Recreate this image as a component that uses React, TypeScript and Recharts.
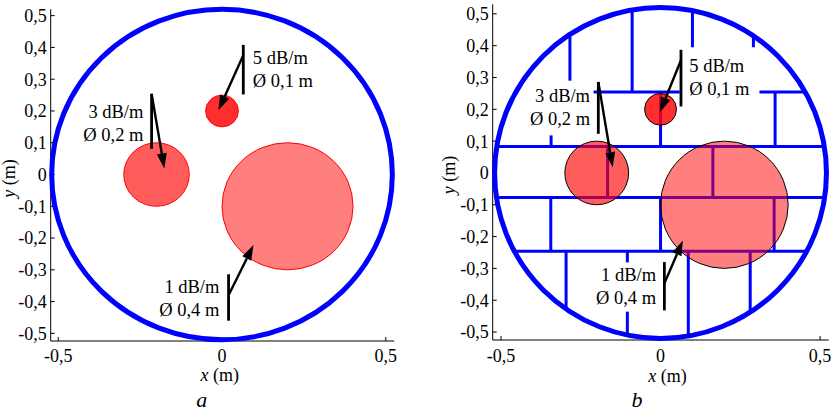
import React from "react";
import { Scatter, ScatterChart, XAxis, YAxis } from "recharts";

const xTicks = [-0.5, 0, 0.5];
const yTicks = [-0.5, -0.4, -0.3, -0.2, -0.1, 0, 0.1, 0.2, 0.3, 0.4, 0.5];

// outer wall of the room (m)
const rimRadius = 0.52;

// obstacles: centre, diameter (m), attenuation (dB/m)
const obstacleX = [0, -0.2, 0.2];
const obstacleY = [0.2, 0, -0.1];
const obstacleDiameter = [0.1, 0.2, 0.4];
const obstacleLoss = [5, 3, 1];

// inner walls (panel b): horizontal ones run rim to rim
const hWallY = [0.254, 0.083, -0.077, -0.246];
// vertical ones: [x, y from, y to], null = runs on to the rim
const vWalls: [number, number, number | null][] = [
  [-0.284, 0.254, null],
  [-0.089, 0.254, null],
  [0.1, 0.254, null],
  [0.291, 0.254, null],
  [-0.343, 0.083, 0.254],
  [0, 0.083, 0.254],
  [0.359, 0.083, 0.254],
  [-0.166, -0.077, 0.083],
  [0.164, -0.077, 0.083],
  [-0.344, -0.246, -0.077],
  [0, -0.246, -0.077],
  [0.356, -0.246, -0.077],
  [-0.296, -0.246, null],
  [-0.104, -0.246, null],
  [0.087, -0.246, null],
  [0.281, -0.246, null],
];

const BLUE = "#0000ff";
const SERIF = "'Liberation Serif', 'Times New Roman', serif";
const lossAlpha: Record<number, number> = { 5: 0.82, 3: 0.64, 1: 0.5 };

type Callout = {
  bar: [number, number, number]; // x, y bottom, y top
  tail: [number, number];
  head: [number, number];
  text: [number, number];
  side: "start" | "end";
  box?: [number, number, number, number]; // x1, x2, y1, y2
};

// callout placement, same order as the obstacles
const calloutsA: Callout[] = [
  { bar: [0.065, 0.252, 0.408], tail: [0.065, 0.375], head: [-0.011, 0.202], text: [0.094, 0.368], side: "start" },
  { bar: [-0.215, 0.081, 0.254], tail: [-0.215, 0.254], head: [-0.176, 0.019], text: [-0.24, 0.197], side: "end" },
  { bar: [0.02, -0.46, -0.314], tail: [0.02, -0.38], head: [0.096, -0.222], text: [-0.008, -0.353], side: "end" },
];
const calloutsB: Callout[] = [
  { bar: [0.064, 0.209, 0.387], tail: [0.064, 0.354], head: [-0.002, 0.191], text: [0.09, 0.338], side: "start", box: [0.06, 0.31, 0.228, 0.395] },
  { bar: [-0.195, 0.123, 0.286], tail: [-0.195, 0.286], head: [-0.15, 0.018], text: [-0.221, 0.242], side: "end", box: [-0.45, -0.21, 0.118, 0.29] },
  { bar: [0.012, -0.432, -0.28], tail: [0.012, -0.347], head: [0.07, -0.212], text: [-0.014, -0.319], side: "end", box: [-0.196, 0.014, -0.436, -0.281] },
];

const comma = (v: number) => (v === 0 ? "0" : v.toFixed(1).replace(".", ","));
const rimAt = (c: number) => Math.sqrt(rimRadius * rimRadius - c * c);

const blank = () => <g />;

const segment = (stroke: string, width: number) => (p: any) => {
  const [a, b] = p.points;
  return <line x1={a.x} y1={a.y} x2={b.x} y2={b.y} stroke={stroke} strokeWidth={width} />;
};

const arrow = (p: any) => {
  const [a, b] = p.points;
  const dx = b.x - a.x;
  const dy = b.y - a.y;
  const len = Math.hypot(dx, dy);
  const ux = dx / len;
  const uy = dy / len;
  const hl = 15;
  const hw = 5;
  const bx = b.x - ux * hl;
  const by = b.y - uy * hl;
  return (
    <g>
      <line x1={a.x} y1={a.y} x2={bx} y2={by} stroke="#000" strokeWidth={2.4} />
      <polygon
        points={`${b.x},${b.y} ${bx - uy * hw},${by + ux * hw} ${bx + uy * hw},${by - ux * hw}`}
        fill="#000"
      />
    </g>
  );
};

// circle from centre + two rim points, so both axis scales apply
const disc = (fill: string, alpha: number, stroke: string, width: number) => (p: any) => {
  const [c, rx, ry] = p.points;
  return (
    <ellipse
      cx={c.x}
      cy={c.y}
      rx={Math.abs(rx.x - c.x)}
      ry={Math.abs(ry.y - c.y)}
      fill={fill}
      fillOpacity={alpha}
      stroke={stroke}
      strokeWidth={width}
    />
  );
};

const whiteBox = (p: any) => {
  const [a, b] = p.points;
  return (
    <rect
      x={Math.min(a.x, b.x)}
      y={Math.min(a.y, b.y)}
      width={Math.abs(b.x - a.x)}
      height={Math.abs(b.y - a.y)}
      fill="#fff"
    />
  );
};

const circlePts = (x: number, y: number, r: number) => [
  { x, y },
  { x: x + r, y },
  { x, y: y + r },
];

type PanelProps = {
  walls: boolean;
  callouts: Callout[];
  xDomain: [number, number];
  yDomain: [number, number];
  width: number;
  margin: { top: number; right: number; bottom: number; left: number };
  yAxisWidth: number;
  edge: string;
  tickMargin: number;
};

function Panel({ walls, callouts, xDomain, yDomain, width, margin, yAxisWidth, edge, tickMargin }: PanelProps) {
  const tickStyle = { fontFamily: SERIF, fontSize: 18, fill: "#000" };
  const axisLine = { stroke: "#000", strokeWidth: 1 };
  return (
    <ScatterChart width={width} height={412} margin={margin}>
      <XAxis
        type="number"
        dataKey="x"
        domain={xDomain}
        ticks={xTicks}
        tickFormatter={comma}
        tick={tickStyle}
        tickSize={-4}
        tickMargin={tickMargin}
        axisLine={axisLine}
        tickLine={axisLine}
        height={40}
        interval={0}
      />
      <XAxis
        xAxisId="top"
        orientation="top"
        type="number"
        dataKey="x"
        domain={xDomain}
        allowDataOverflow
        ticks={xTicks}
        tick={false}
        tickSize={-4}
        axisLine={axisLine}
        tickLine={axisLine}
        height={0}
      />
      <YAxis
        type="number"
        dataKey="y"
        domain={yDomain}
        ticks={yTicks}
        tickFormatter={comma}
        tick={tickStyle}
        tickSize={-4}
        tickMargin={8}
        axisLine={axisLine}
        tickLine={axisLine}
        width={yAxisWidth}
        interval={0}
      />
      <YAxis
        yAxisId="right"
        orientation="right"
        type="number"
        dataKey="y"
        domain={yDomain}
        allowDataOverflow
        ticks={yTicks}
        tick={false}
        tickSize={-4}
        axisLine={axisLine}
        tickLine={axisLine}
        width={0}
      />

      {walls &&
        hWallY.map((y, i) => (
          <Scatter
            key={`h${i}`}
            data={[
              { x: -rimAt(y), y },
              { x: rimAt(y), y },
            ]}
            shape={blank}
            line={segment(BLUE, 3)}
            isAnimationActive={false}
          />
        ))}
      {walls &&
        vWalls.map(([x, y1, y2], i) => (
          <Scatter
            key={`v${i}`}
            data={[
              { x, y: y1 },
              { x, y: y2 === null ? Math.sign(y1) * rimAt(x) : y2 },
            ]}
            shape={blank}
            line={segment(BLUE, 3)}
            isAnimationActive={false}
          />
        ))}
      {callouts.map((c, i) =>
        c.box ? (
          <Scatter
            key={`box${i}`}
            data={[
              { x: c.box[0], y: c.box[2] },
              { x: c.box[1], y: c.box[3] },
            ]}
            shape={blank}
            line={whiteBox}
            isAnimationActive={false}
          />
        ) : null
      )}

      <Scatter
        data={circlePts(0, 0, rimRadius)}
        shape={blank}
        line={disc("none", 0, BLUE, 5)}
        isAnimationActive={false}
      />

      {obstacleX.map((x, i) => (
        <Scatter
          key={`o${i}`}
          data={circlePts(x, obstacleY[i], obstacleDiameter[i] / 2)}
          shape={blank}
          line={disc("#ff0000", lossAlpha[obstacleLoss[i]], edge, 1)}
          isAnimationActive={false}
        />
      ))}

      {callouts.map((c, i) => (
        <Scatter
          key={`bar${i}`}
          data={[
            { x: c.bar[0], y: c.bar[1] },
            { x: c.bar[0], y: c.bar[2] },
          ]}
          shape={blank}
          line={segment("#000", 2.8)}
          isAnimationActive={false}
        />
      ))}
      {callouts.map((c, i) => (
        <Scatter
          key={`arr${i}`}
          data={[
            { x: c.tail[0], y: c.tail[1] },
            { x: c.head[0], y: c.head[1] },
          ]}
          shape={blank}
          line={arrow}
          isAnimationActive={false}
        />
      ))}
      {callouts.map((c, i) => (
        <Scatter
          key={`txt${i}`}
          data={[{ x: c.text[0], y: c.text[1] }]}
          isAnimationActive={false}
          shape={(p: any) => (
            <text textAnchor={c.side} fontFamily={SERIF} fontSize={18.5} fill="#000">
              <tspan x={p.cx} y={p.cy} dy="0.35em">
                {`${obstacleLoss[i]} dB/m`}
              </tspan>
              <tspan x={p.cx} dy={23}>
                {`Ø ${comma(obstacleDiameter[i])} m`}
              </tspan>
            </text>
          )}
        />
      ))}
    </ScatterChart>
  );
}

export default function App() {
  return (
    <div style={{ position: "absolute", left: 0, top: 0, width: 837, height: 412, background: "#fff" }}>
      <div style={{ position: "absolute", left: 0, top: 0 }}>
        <Panel
          walls={false}
          callouts={calloutsA}
          xDomain={[-0.523, 0.526]}
          yDomain={[-0.524, 0.52]}
          width={420}
          margin={{ top: 9.3, right: 25.7, bottom: 31, left: 0 }}
          yAxisWidth={50.7}
          edge="#ff0000"
          tickMargin={12.6}
        />
      </div>
      <div style={{ position: "absolute", left: 420, top: 0 }}>
        <Panel
          walls
          callouts={calloutsB}
          xDomain={[-0.526, 0.527]}
          yDomain={[-0.525, 0.53]}
          width={417}
          margin={{ top: 4.3, right: 8.3, bottom: 32, left: 0 }}
          yAxisWidth={72.7}
          edge="#000"
          tickMargin={13.6}
        />
      </div>
      <svg width={837} height={412} style={{ position: "absolute", left: 0, top: 0, pointerEvents: "none" }}>
        <g fontFamily={SERIF} fontSize={18} fill="#000">
          <text x={219.7} y={381} textAnchor="middle">
            <tspan fontStyle="italic">x</tspan> (m)
          </text>
          <text x={667.5} y={381.5} textAnchor="middle">
            <tspan fontStyle="italic">x</tspan> (m)
          </text>
          <text transform="translate(15,178.5) rotate(-90)" textAnchor="middle">
            <tspan fontStyle="italic">y</tspan> (m)
          </text>
          <text transform="translate(455,175) rotate(-90)" textAnchor="middle">
            <tspan fontStyle="italic">y</tspan> (m)
          </text>
        </g>
        <g fontFamily={SERIF} fontSize={22} fontStyle="italic" fill="#000">
          <text x={201.7} y={406.5} textAnchor="middle">a</text>
          <text x={637} y={406.5} textAnchor="middle">b</text>
        </g>
      </svg>
    </div>
  );
}
